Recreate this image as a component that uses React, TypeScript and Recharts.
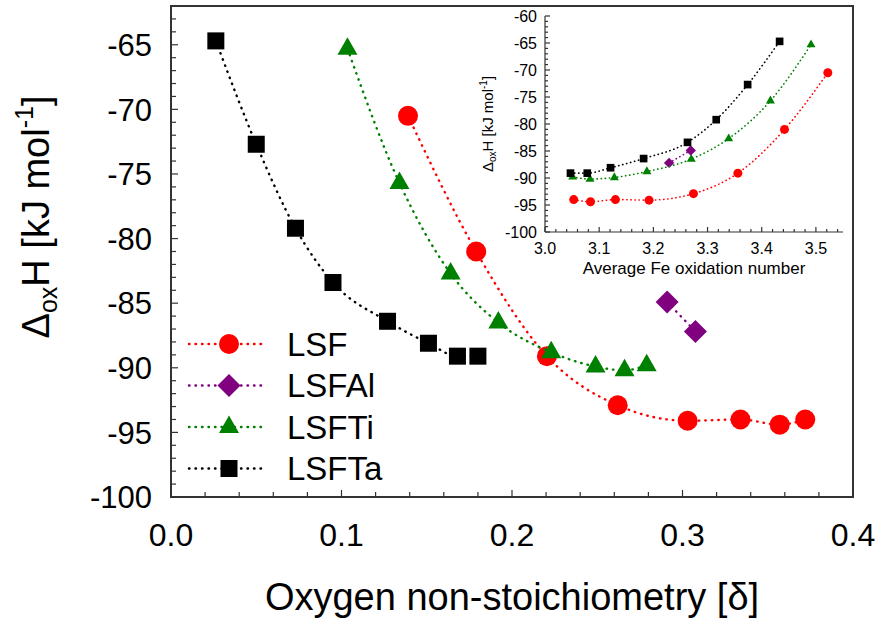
import React from 'react';
import { ScatterChart, Scatter, XAxis, YAxis, ReferenceArea, Legend, Label } from 'recharts';

const FONT = '"Liberation Sans", Arial, sans-serif';
const AXIS = '#333333';

// main plot: oxygen non-stoichiometry (delta) vs oxidation enthalpy [kJ/mol]
const lsfDelta = [0.139, 0.179, 0.2205, 0.262, 0.303, 0.334, 0.357, 0.372];
const lsfH = [-70.5, -81.0, -89.1, -92.9, -94.1, -94.0, -94.4, -94.0];
const lsfalDelta = [0.291, 0.3076];
const lsfalH = [-84.9, -87.2];
const lsftiDelta = [0.1035, 0.134, 0.164, 0.192, 0.223, 0.249, 0.266, 0.279];
const lsftiH = [-65.3, -75.7, -82.7, -86.5, -88.8, -89.9, -90.2, -89.8];
const lsftaDelta = [0.0263, 0.05, 0.073, 0.095, 0.127, 0.151, 0.168, 0.18];
const lsftaH = [-64.7, -72.7, -79.2, -83.4, -86.4, -88.1, -89.1, -89.1];

// inset: average Fe oxidation number, paired index-wise with the enthalpies above
const lsfOx = [3.522, 3.442, 3.356, 3.274, 3.192, 3.13, 3.084, 3.053];
const lsfalOx = [3.269, 3.229];
const lsftiOx = [3.491, 3.416, 3.339, 3.27, 3.188, 3.128, 3.083, 3.051];
const lsftaOx = [3.433, 3.374, 3.316, 3.263, 3.182, 3.121, 3.078, 3.047];

const seriesNames = ['LSF', 'LSFAl', 'LSFTi', 'LSFTa'];
const seriesColors = ['#ff0000', '#800080', '#008000', '#000000'];
const seriesMarks = ['circle', 'diamond', 'triangle', 'square'];

const mainXLabels = [0, 0.1, 0.2, 0.3, 0.4];
const mainYLabels = [-100, -95, -90, -85, -80, -75, -70, -65];
const insetXLabels = [3.0, 3.1, 3.2, 3.3, 3.4, 3.5];
const insetYLabels = [-100, -95, -90, -85, -80, -75, -70, -65, -60];

const range = (a: number, b: number, step: number) => {
  const out: number[] = [];
  for (let v = a; v <= b + step / 2; v += step) out.push(Math.round(v * 1000) / 1000);
  return out;
};

const mainXTicks = range(0, 0.4, 0.02);
const mainYTicks = range(-100, -62, 1);
const insetXTicks = range(3.0, 3.54, 0.02);
const insetYTicks = range(-100, -60, 1);

const pts = (xs: number[], ys: number[]) =>
  xs.map((x, i) => ({ x, y: ys[i] })).sort((a, b) => a.x - b.x);

const mainData = [pts(lsfDelta, lsfH), pts(lsfalDelta, lsfalH), pts(lsftiDelta, lsftiH), pts(lsftaDelta, lsftaH)];
const insetData = [pts(lsfOx, lsfH), pts(lsfalOx, lsfalH), pts(lsftiOx, lsftiH), pts(lsftaOx, lsftaH)];

function drawMarker(kind: string, cx: number, cy: number, s: number, color: string) {
  if (kind === 'circle') return <circle cx={cx} cy={cy} r={10 * s} fill={color} />;
  if (kind === 'square') {
    const h = 8.5 * s;
    return <rect x={cx - h} y={cy - h} width={2 * h} height={2 * h} fill={color} />;
  }
  if (kind === 'diamond') {
    const h = 11.5 * s;
    return <path d={`M${cx},${cy - h}L${cx + h},${cy}L${cx},${cy + h}L${cx - h},${cy}Z`} fill={color} />;
  }
  const w = 10 * s;
  const t = 11.5 * s;
  const b = 6 * s;
  return <path d={`M${cx},${cy - t}L${cx + w},${cy + b}L${cx - w},${cy + b}Z`} fill={color} />;
}

const shapeFor = (kind: string, color: string, s: number) => (p: any) => drawMarker(kind, p.cx, p.cy, s, color);

interface TickOpts {
  side: 'left' | 'right' | 'top' | 'bottom';
  gap: number;
  labels: number[];
  major: number;
  minor: number;
  fontSize: number;
  digits: number;
  showLabel: boolean;
}

const makeTick = (o: TickOpts) => (props: any) => {
  const { x, y, payload } = props;
  const v = payload.value;
  const isMajor = o.labels.some((l) => Math.abs(l - v) < 1e-6);
  const len = isMajor ? o.major : o.minor;
  const txt = o.digits > 0 ? v.toFixed(o.digits) : String(v);
  let ln: React.ReactNode = null;
  let label: React.ReactNode = null;
  if (o.side === 'left') {
    const ax = x + o.gap;
    ln = <line x1={ax} x2={ax + len} y1={y} y2={y} />;
    if (isMajor && o.showLabel)
      label = <text x={x} y={y} dy="0.36em" textAnchor="end">{txt}</text>;
  } else if (o.side === 'right') {
    const ax = x - o.gap;
    ln = <line x1={ax} x2={ax - len} y1={y} y2={y} />;
  } else if (o.side === 'bottom') {
    const ay = y - o.gap;
    ln = <line x1={x} x2={x} y1={ay} y2={ay - len} />;
    if (isMajor && o.showLabel)
      label = <text x={x} y={y} dy="0.72em" textAnchor="middle">{txt}</text>;
  } else {
    const ay = y + o.gap;
    ln = <line x1={x} x2={x} y1={ay} y2={ay + len} />;
  }
  return (
    <g stroke={AXIS} strokeWidth={1.2}>
      {ln}
      {label && (
        <g stroke="none" fill="#000" fontSize={o.fontSize} fontFamily={FONT}>
          {label}
        </g>
      )}
    </g>
  );
};

const MainYTitle = ({ viewBox }: any) => {
  const x = viewBox.x + 49;
  const y = viewBox.y + 211;
  return (
    <text transform={`translate(${x},${y}) rotate(-90)`} textAnchor="middle" fontSize={38} fontFamily={FONT} fill="#000">
      Δ<tspan fontSize={25} dy={8}>ox</tspan>
      <tspan dy={-8}>H [kJ mol</tspan>
      <tspan fontSize={25} dy={-16}>-1</tspan>
      <tspan dy={16}>]</tspan>
    </text>
  );
};

const MainXTitle = ({ viewBox }: any) => (
  <text x={viewBox.x + viewBox.width / 2} y={viewBox.y + 113} textAnchor="middle" fontSize={38} fontFamily={FONT} fill="#000">
    Oxygen non-stoichiometry [δ]
  </text>
);

const InsetYTitle = ({ viewBox }: any) => {
  const x = viewBox.x + 53;
  const y = viewBox.y + viewBox.height / 2;
  return (
    <text transform={`translate(${x},${y}) rotate(-90)`} textAnchor="middle" fontSize={15} fontFamily={FONT} fill="#000">
      Δ<tspan fontSize={10} dy={3}>ox</tspan>
      <tspan dy={-3}>H [kJ mol</tspan>
      <tspan fontSize={10} dy={-6}>-1</tspan>
      <tspan dy={6}>]</tspan>
    </text>
  );
};

const InsetXTitle = ({ viewBox }: any) => (
  <text x={viewBox.x + viewBox.width / 2} y={viewBox.y + 42} textAnchor="middle" fontSize={17} fontFamily={FONT} fill="#000">
    Average Fe oxidation number
  </text>
);

const MainLegend = () => (
  <svg width={230} height={175}>
    {seriesNames.map((name, i) => {
      const y = 24 + i * 41.5;
      return (
        <g key={name}>
          <line x1={4} x2={78} y1={y} y2={y} stroke={seriesColors[i]} strokeWidth={2.4} strokeDasharray="0.5 6" strokeLinecap="round" />
          {drawMarker(seriesMarks[i], 44, y, 1, seriesColors[i])}
          <text x={102} y={y} dy="0.36em" fontSize={33} fontFamily={FONT} fill="#000">{name}</text>
        </g>
      );
    })}
  </svg>
);

export default function App() {
  return (
    <div style={{ position: 'absolute', left: 0, top: 0, width: 881, height: 623, background: '#fff', fontFamily: FONT }}>
      <ScatterChart width={881} height={623} margin={{ top: 6, right: 28, bottom: 0, left: 0 }}>
        <XAxis
          type="number"
          dataKey="x"
          domain={[0, 0.4]}
          ticks={mainXTicks}
          interval={0}
          allowDataOverflow
          height={126}
          tickSize={0}
          tickMargin={26}
          tickLine={false}
          axisLine={{ stroke: AXIS, strokeWidth: 2 }}
          tick={makeTick({ side: 'bottom', gap: 26, labels: mainXLabels, major: 7, minor: 5, fontSize: 32, digits: 1, showLabel: true })}
        >
          <Label content={(p: any) => <MainXTitle viewBox={p.viewBox} />} />
        </XAxis>
        <YAxis
          type="number"
          dataKey="y"
          domain={[-100, -62]}
          ticks={mainYTicks}
          interval={0}
          allowDataOverflow
          width={171}
          tickSize={0}
          tickMargin={19}
          tickLine={false}
          axisLine={{ stroke: AXIS, strokeWidth: 2 }}
          tick={makeTick({ side: 'left', gap: 19, labels: mainYLabels, major: 7, minor: 5, fontSize: 31, digits: 0, showLabel: true })}
        >
          <Label content={(p: any) => <MainYTitle viewBox={p.viewBox} />} />
        </YAxis>
        <ReferenceArea x1={0} x2={0.4} y1={-100} y2={-62} fill="none" stroke={AXIS} strokeWidth={2} />
        {seriesNames.map((name, i) => (
          <Scatter
            key={name}
            name={name}
            data={mainData[i]}
            isAnimationActive={false}
            line={{ stroke: seriesColors[i], strokeWidth: 2.4, strokeDasharray: '0.5 6', strokeLinecap: 'round' }}
            lineJointType="monotoneX"
            shape={shapeFor(seriesMarks[i], seriesColors[i], 1)}
          />
        ))}
        <Legend
          layout="horizontal"
          verticalAlign="middle"
          align="center"
          wrapperStyle={{ left: 185, top: 320, width: 230, height: 175 }}
          content={() => <MainLegend />}
        />
      </ScatterChart>

      <div style={{ position: 'absolute', left: 440, top: 0 }}>
        <ScatterChart width={420} height={290} margin={{ top: 16, right: 17, bottom: 0, left: 0 }}>
          <XAxis
            xAxisId="b"
            type="number"
            dataKey="x"
            domain={[3.0, 3.55]}
            ticks={insetXTicks}
            interval={0}
            allowDataOverflow
            height={58}
            tickSize={0}
            tickMargin={10}
            tickLine={false}
            axisLine={{ stroke: AXIS, strokeWidth: 1.2 }}
            tick={makeTick({ side: 'bottom', gap: 10, labels: insetXLabels, major: 5, minor: 3, fontSize: 16, digits: 1, showLabel: true })}
          >
            <Label content={(p: any) => <InsetXTitle viewBox={p.viewBox} />} />
          </XAxis>
          <XAxis
            xAxisId="t"
            orientation="top"
            type="number"
            domain={[3.0, 3.55]}
            ticks={insetXTicks}
            interval={0}
            allowDataOverflow
            height={0}
            tickSize={0}
            tickMargin={0}
            tickLine={false}
            axisLine={{ stroke: AXIS, strokeWidth: 1.2 }}
            tick={makeTick({ side: 'top', gap: 0, labels: insetXLabels, major: 5, minor: 3, fontSize: 16, digits: 1, showLabel: false })}
          />
          <YAxis
            yAxisId="l"
            type="number"
            dataKey="y"
            domain={[-100, -60]}
            ticks={insetYTicks}
            interval={0}
            allowDataOverflow
            width={105}
            tickSize={0}
            tickMargin={8}
            tickLine={false}
            axisLine={{ stroke: AXIS, strokeWidth: 1.2 }}
            tick={makeTick({ side: 'left', gap: 8, labels: insetYLabels, major: 5, minor: 3, fontSize: 16, digits: 0, showLabel: true })}
          >
            <Label content={(p: any) => <InsetYTitle viewBox={p.viewBox} />} />
          </YAxis>
          <YAxis
            yAxisId="r"
            orientation="right"
            type="number"
            domain={[-100, -60]}
            ticks={insetYTicks}
            interval={0}
            allowDataOverflow
            width={0}
            tickSize={0}
            tickMargin={0}
            tickLine={false}
            axisLine={{ stroke: AXIS, strokeWidth: 1.2 }}
            tick={makeTick({ side: 'right', gap: 0, labels: insetYLabels, major: 5, minor: 3, fontSize: 16, digits: 0, showLabel: false })}
          />
          {seriesNames.map((name, i) => (
            <Scatter
              key={name}
              name={name}
              xAxisId="b"
              yAxisId="l"
              data={insetData[i]}
              isAnimationActive={false}
              line={{ stroke: seriesColors[i], strokeWidth: 1.6, strokeDasharray: '0.3 3.8', strokeLinecap: 'round' }}
              lineJointType="monotoneX"
              shape={shapeFor(seriesMarks[i], seriesColors[i], 0.45)}
            />
          ))}
        </ScatterChart>
      </div>
    </div>
  );
}
